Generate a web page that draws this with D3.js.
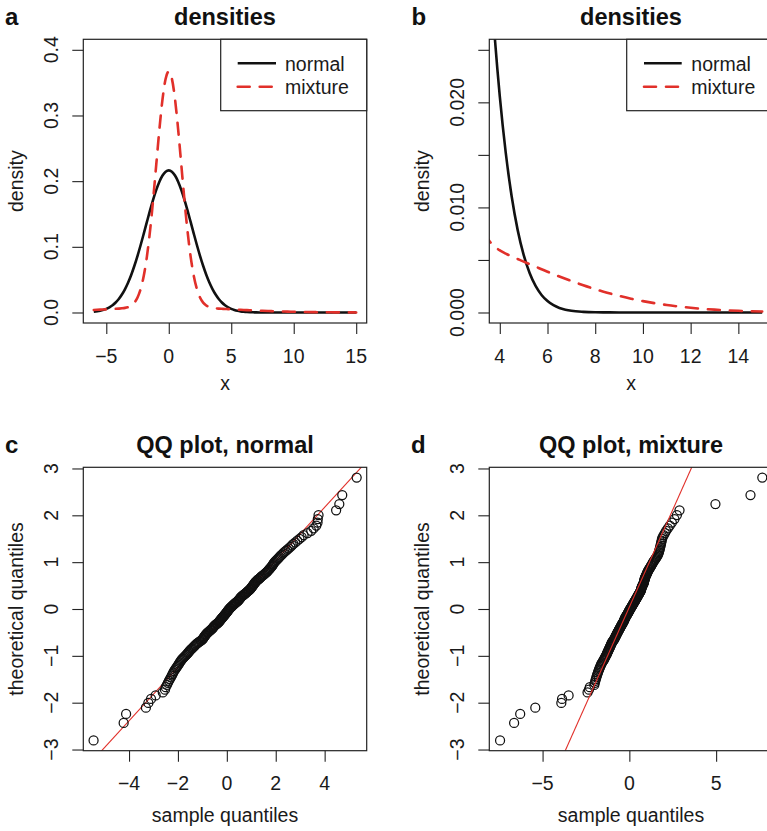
<!DOCTYPE html>
<html><head><meta charset="utf-8">
<script src="https://cdn.jsdelivr.net/npm/d3@7/dist/d3.min.js"></script>
<style>body{margin:0;background:#fff}svg{display:block}</style>
</head><body>
<svg id="chart" width="767" height="831"></svg>
<script>
// ---------- data ----------
const densityX = [-6,-5.5,-5,-4.75,-4.5,-4.25,-4,-3.75,-3.5,-3.25,-3,-2.75,-2.5,-2.25,-2,-1.75,-1.5,-1.25,-1,-0.75,-0.5,-0.25,0,
  0.25,0.5,0.75,1,1.25,1.5,1.75,2,2.25,2.5,2.75,3,3.25,3.5,3.75,4,4.25,4.5,4.75,5,5.25,5.5,5.75,6,6.25,6.5,6.75,7,
  7.5,8,8.5,9,9.5,10,10.5,11,11.5,12,12.5,13,13.5,14,14.5,15];
const normalDensity = [0.00109,0.00253,0.00548,0.00784,0.01101,0.01519,0.02057,0.02736,0.03571,0.04577,0.05759,0.07115,0.08630,0.10276,0.12014,0.13790,0.15540,0.17194,0.18675,0.19917,0.20854,0.21437,0.21635,
  0.21437,0.20854,0.19917,0.18675,0.17194,0.15540,0.13790,0.12014,0.10276,0.08630,0.07115,0.05759,0.04577,0.03571,0.02736,0.02057,0.01519,0.01101,0.00784,0.00548,0.00376,0.00253,0.00167,0.00109,0.00069,0.00043,0.00027,0.00016,
  0.00006,0.00002,0.00001,0,0,0,0,0,0,0,0,0,0,0,0,0];
const mixtureDensity = [0.00388,0.00436,0.00484,0.00509,0.00534,0.00560,0.00591,0.00634,0.00703,0.00829,0.01065,0.01504,0.02282,0.03578,0.05596,0.08516,0.12419,0.17211,0.22559,0.27891,0.32479,0.35596,0.36702,
  0.35596,0.32479,0.27891,0.22559,0.17211,0.12419,0.08516,0.05596,0.03578,0.02282,0.01504,0.01065,0.00829,0.00703,0.00634,0.00591,0.00560,0.00534,0.00509,0.00484,0.00460,0.00436,0.00412,0.00388,0.00365,0.00343,0.00321,0.00300,
  0.00259,0.00222,0.00188,0.00158,0.00131,0.00108,0.00088,0.00071,0.00057,0.00045,0.00035,0.00027,0.00021,0.00016,0.00012,0.00009];

const theoreticalQuantiles = [
 -2.807,-2.432,-2.241,-2.108,-2.005,-1.919,-1.845,-1.781,-1.722,-1.670,
 -1.621,-1.576,-1.534,-1.495,-1.458,-1.422,-1.388,-1.356,-1.326,-1.296,
 -1.267,-1.240,-1.213,-1.188,-1.163,-1.138,-1.115,-1.092,-1.069,-1.047,
 -1.026,-1.005,-0.984,-0.964,-0.944,-0.925,-0.906,-0.887,-0.869,-0.851,
 -0.833,-0.815,-0.798,-0.781,-0.764,-0.747,-0.731,-0.714,-0.698,-0.682,
 -0.667,-0.651,-0.636,-0.620,-0.605,-0.590,-0.575,-0.561,-0.546,-0.532,
 -0.517,-0.503,-0.489,-0.475,-0.461,-0.447,-0.433,-0.419,-0.406,-0.392,
 -0.379,-0.365,-0.352,-0.339,-0.325,-0.312,-0.299,-0.286,-0.273,-0.260,
 -0.247,-0.234,-0.221,-0.208,-0.196,-0.183,-0.170,-0.157,-0.145,-0.132,
 -0.119,-0.107,-0.094,-0.082,-0.069,-0.056,-0.044,-0.031,-0.019,-0.006,
 0.006,0.019,0.031,0.044,0.056,0.069,0.082,0.094,0.107,0.119,
 0.132,0.145,0.157,0.170,0.183,0.196,0.208,0.221,0.234,0.247,
 0.260,0.273,0.286,0.299,0.312,0.325,0.339,0.352,0.365,0.379,
 0.392,0.406,0.419,0.433,0.447,0.461,0.475,0.489,0.503,0.517,
 0.532,0.546,0.561,0.575,0.590,0.605,0.620,0.636,0.651,0.667,
 0.682,0.698,0.714,0.731,0.747,0.764,0.781,0.798,0.815,0.833,
 0.851,0.869,0.887,0.906,0.925,0.944,0.964,0.984,1.005,1.026,
 1.047,1.069,1.092,1.115,1.138,1.163,1.188,1.213,1.240,1.267,
 1.296,1.326,1.356,1.388,1.422,1.458,1.495,1.534,1.576,1.621,
 1.670,1.722,1.781,1.845,1.919,2.005,2.108,2.241,2.432,2.807];

const sampleNormal = [
 -5.45,-4.22,-4.12,-3.31,-3.21,-3.10,-2.91,-2.62,-2.53,-2.50,
 -2.45,-2.41,-2.37,-2.33,-2.29,-2.25,-2.22,-2.19,-2.16,-2.12,
 -2.08,-2.05,-2.01,-1.98,-1.95,-1.92,-1.89,-1.86,-1.83,-1.79,
 -1.75,-1.71,-1.67,-1.63,-1.60,-1.57,-1.54,-1.51,-1.48,-1.44,
 -1.41,-1.37,-1.34,-1.31,-1.28,-1.24,-1.20,-1.16,-1.12,-1.07,
 -1.03,-1.00,-0.98,-0.96,-0.94,-0.92,-0.90,-0.88,-0.86,-0.83,
 -0.81,-0.78,-0.75,-0.72,-0.69,-0.66,-0.63,-0.60,-0.58,-0.56,
 -0.54,-0.52,-0.49,-0.46,-0.43,-0.40,-0.37,-0.34,-0.32,-0.30,
 -0.28,-0.26,-0.24,-0.22,-0.20,-0.18,-0.16,-0.14,-0.12,-0.10,
 -0.08,-0.06,-0.04,-0.02,0.00,0.02,0.03,0.05,0.07,0.09,
 0.11,0.13,0.15,0.18,0.20,0.23,0.25,0.28,0.31,0.33,
 0.36,0.39,0.42,0.45,0.47,0.49,0.51,0.53,0.55,0.57,
 0.59,0.62,0.65,0.68,0.71,0.74,0.77,0.80,0.83,0.86,
 0.89,0.92,0.95,0.97,0.99,1.01,1.03,1.05,1.07,1.09,
 1.11,1.13,1.15,1.17,1.20,1.23,1.26,1.30,1.33,1.36,
 1.39,1.42,1.46,1.50,1.54,1.58,1.62,1.65,1.68,1.71,
 1.74,1.77,1.80,1.83,1.86,1.88,1.90,1.93,1.96,2.00,
 2.04,2.08,2.12,2.16,2.20,2.25,2.30,2.35,2.41,2.47,
 2.53,2.60,2.66,2.72,2.80,2.88,2.97,3.06,3.14,3.30,
 3.45,3.55,3.66,3.71,3.72,3.75,4.47,4.60,4.72,5.31];

const sampleMixture = [
 -7.45,-6.64,-6.29,-5.42,-3.92,-3.88,-3.50,-2.41,-2.33,-2.28,
 -2.02,-1.99,-1.96,-1.93,-1.90,-1.87,-1.84,-1.81,-1.78,-1.75,
 -1.72,-1.69,-1.66,-1.63,-1.60,-1.56,-1.52,-1.48,-1.45,-1.42,
 -1.39,-1.36,-1.33,-1.30,-1.28,-1.26,-1.23,-1.21,-1.19,-1.17,
 -1.14,-1.12,-1.10,-1.08,-1.06,-1.04,-1.02,-1.00,-0.97,-0.94,
 -0.91,-0.88,-0.86,-0.84,-0.82,-0.80,-0.78,-0.76,-0.74,-0.72,
 -0.70,-0.68,-0.66,-0.64,-0.62,-0.60,-0.58,-0.56,-0.54,-0.52,
 -0.50,-0.48,-0.46,-0.44,-0.42,-0.40,-0.38,-0.36,-0.34,-0.32,
 -0.31,-0.29,-0.28,-0.26,-0.25,-0.23,-0.21,-0.19,-0.17,-0.15,
 -0.13,-0.11,-0.09,-0.07,-0.05,-0.03,-0.02,0.00,0.02,0.04,
 0.06,0.08,0.10,0.12,0.14,0.16,0.18,0.20,0.22,0.24,
 0.26,0.28,0.30,0.32,0.34,0.36,0.38,0.40,0.42,0.44,
 0.46,0.48,0.50,0.52,0.54,0.56,0.58,0.60,0.62,0.64,
 0.66,0.67,0.68,0.69,0.70,0.71,0.72,0.74,0.76,0.78,
 0.80,0.82,0.83,0.84,0.85,0.86,0.87,0.88,0.89,0.90,
 0.92,0.94,0.96,0.98,1.00,1.02,1.04,1.06,1.08,1.11,
 1.14,1.17,1.20,1.23,1.26,1.29,1.32,1.35,1.38,1.42,
 1.46,1.50,1.54,1.58,1.62,1.65,1.68,1.70,1.72,1.74,
 1.76,1.78,1.80,1.82,1.84,1.86,1.88,1.92,1.98,2.05,
 2.12,2.22,2.33,2.45,2.60,2.74,2.89,4.96,6.98,7.66];

// qq reference lines: [intercept, slope] for theoretical = intercept + slope * sample
const qqLineNormal = [-0.108, 0.5698];
const qqLineMixture = [0.0415, 0.830];

const ticksAx = [-5,0,5,10,15], labelsAx = ["\u22125","0","5","10","15"];
const ticksAy = [0,0.1,0.2,0.3,0.4], labelsAy = ["0.0","0.1","0.2","0.3","0.4"];
const ticksBx = [4,6,8,10,12,14], labelsBx = ["4","6","8","10","12","14"];
const ticksBy = [0,0.005,0.010,0.015,0.020,0.025], labelsBy = ["0.000","","0.010","","0.020",""];
const ticksCx = [-4,-2,0,2,4], labelsCx = ["\u22124","\u22122","0","2","4"];
const ticksQy = [-3,-2,-1,0,1,2,3], labelsQy = ["\u22123","\u22122","\u22121","0","1","2","3"];
const ticksDx = [-5,0,5], labelsDx = ["\u22125","0","5"];
const legendLabels = ["normal","mixture"];

// ---------- drawing ----------
const FONT = "'Liberation Sans', Arial, Helvetica, sans-serif";
const RED = "#e1302a";
const svg = d3.select("#chart");

function panel(o) {
  const g = svg.append("g");
  const x = d3.scaleLinear().domain(o.xDomain).range([o.left, o.right]);
  const y = d3.scaleLinear().domain(o.yDomain).range([o.bottom, o.top]);
  const id = "clip" + o.letter;
  svg.append("clipPath").attr("id", id).append("rect")
    .attr("x", o.left).attr("y", o.top).attr("width", o.right - o.left).attr("height", o.bottom - o.top);

  const xa = g.append("g").attr("transform", `translate(0,${o.bottom})`)
    .call(d3.axisBottom(x).tickValues(o.xTicks).tickSize(11).tickSizeOuter(0).tickFormat(""));
  const ya = g.append("g").attr("transform", `translate(${o.left},0)`)
    .call(d3.axisLeft(y).tickValues(o.yTicks).tickSize(11).tickSizeOuter(0).tickFormat(""));
  [xa, ya].forEach(a => {
    a.selectAll("line").attr("stroke", "#222").attr("stroke-width", 1.1);
    a.select(".domain").remove();
  });
  g.selectAll(".xl").data(o.xTicks).enter().append("text")
    .attr("x", d => x(d)).attr("y", o.bottom + 39.5).attr("text-anchor", "middle")
    .attr("font-family", FONT).attr("font-size", 19.5).attr("fill", "#1a1a1a")
    .text((d, i) => o.xLabels[i]);
  g.selectAll(".yl").data(o.yTicks).enter().append("text")
    .attr("transform", d => `translate(${o.left - 25.5},${y(d)}) rotate(-90)`)
    .attr("text-anchor", "middle")
    .attr("font-family", FONT).attr("font-size", 19.5).attr("fill", "#1a1a1a")
    .text((d, i) => o.yLabels[i]);

  g.append("text").attr("x", (o.left + o.right) / 2).attr("y", o.top - 14.5)
    .attr("text-anchor", "middle").attr("font-family", FONT).attr("font-weight", "bold")
    .attr("font-size", 23.5).attr("fill", "#111").text(o.title);
  g.append("text").attr("x", o.letterX).attr("y", o.top - 14.5)
    .attr("font-family", FONT).attr("font-weight", "bold")
    .attr("font-size", 24).attr("fill", "#111").text(o.letter);
  g.append("text").attr("x", (o.left + o.right) / 2).attr("y", o.xTitleY)
    .attr("text-anchor", "middle").attr("font-family", FONT).attr("font-size", 19.5)
    .attr("fill", "#1a1a1a").text(o.xTitle);
  g.append("text").attr("transform", `translate(${o.left - 60},${(o.top + o.bottom) / 2}) rotate(-90)`)
    .attr("text-anchor", "middle").attr("font-family", FONT).attr("font-size", 19.5)
    .attr("fill", "#1a1a1a").text(o.yTitle);

  const plot = g.append("g").attr("clip-path", `url(#${id})`);
  o.draw(plot, x, y);

  g.append("rect").attr("x", o.left).attr("y", o.top)
    .attr("width", o.right - o.left).attr("height", o.bottom - o.top)
    .attr("fill", "none").attr("stroke", "#222").attr("stroke-width", 1.2);
  if (o.legend) o.legend(g, x, y);
}

function densityDraw(plot, x, y) {
  const line = d3.line().x(d => x(d[0])).y(d => y(d[1])).curve(d3.curveMonotoneX);
  plot.append("path").datum(densityX.map((v, i) => [v, normalDensity[i]]))
    .attr("d", line).attr("fill", "none").attr("stroke", "#111").attr("stroke-width", 2.6);
  plot.append("path").datum(densityX.map((v, i) => [v, mixtureDensity[i]]))
    .attr("d", line).attr("fill", "none").attr("stroke", RED).attr("stroke-width", 2.6)
    .attr("stroke-dasharray", "12,10").attr("stroke-linecap", "round");
}

function legendAt(bx, lx1, lx2, tx) {
  return function(g) {
    g.append("rect").attr("x", bx).attr("y", 39.3).attr("width", 366.7 - 220.7).attr("height", 71.4)
      .attr("fill", "#fff").attr("stroke", "#222").attr("stroke-width", 1.2);
    const items = [{c: "#111", dash: null, y: 63.3}, {c: RED, dash: "12,10", y: 86.7}];
    items.forEach((it, i) => {
      const l = g.append("line").attr("x1", lx1).attr("x2", lx2).attr("y1", it.y).attr("y2", it.y)
        .attr("stroke", it.c).attr("stroke-width", 2.6);
      if (it.dash) l.attr("stroke-dasharray", it.dash).attr("stroke-linecap", "round");
      g.append("text").attr("x", tx).attr("y", it.y + 7.2).attr("font-family", FONT)
        .attr("font-size", 19.5).attr("fill", "#1a1a1a").text(legendLabels[i]);
    });
  };
}

function qqDraw(sample, lineCoef, lineOnTop) {
  return function(plot, x, y) {
    const xd = x.domain();
    const drawLine = () => plot.append("line")
      .attr("x1", x(xd[0])).attr("y1", y(lineCoef[0] + lineCoef[1] * xd[0]))
      .attr("x2", x(xd[1])).attr("y2", y(lineCoef[0] + lineCoef[1] * xd[1]))
      .attr("stroke", RED).attr("stroke-width", 1.1);
    if (!lineOnTop) drawLine();
    plot.selectAll("circle").data(sample).enter().append("circle")
      .attr("cx", d => x(d)).attr("cy", (d, i) => y(theoreticalQuantiles[i]))
      .attr("r", 4.5).attr("fill", "none").attr("stroke", "#111").attr("stroke-width", 1.25);
    if (lineOnTop) drawLine();
  };
}

panel({letter: "a", letterX: 5, title: "densities", left: 83.3, right: 366.7, top: 39.3, bottom: 323,
  xDomain: [-6.84, 15.84], yDomain: [-0.016, 0.416],
  xTicks: ticksAx, xLabels: labelsAx, yTicks: ticksAy, yLabels: labelsAy,
  xTitle: "x", yTitle: "density", xTitleY: 389.5, draw: densityDraw,
  legend: legendAt(220.7, 237.7, 276, 285)});

panel({letter: "b", letterX: 411.5, title: "densities", left: 489.3, right: 772.7, top: 39.3, bottom: 323,
  xDomain: [3.56, 15.44], yDomain: [-0.001, 0.026],
  xTicks: ticksBx, xLabels: labelsBx, yTicks: ticksBy, yLabels: labelsBy,
  xTitle: "x", yTitle: "density", xTitleY: 389.5, draw: densityDraw,
  legend: legendAt(626.7, 644, 681.7, 691.3)});

panel({letter: "c", letterX: 5, title: "QQ plot, normal", left: 83.3, right: 366.7, top: 467.3, bottom: 750.7,
  xDomain: [-5.87, 5.72], yDomain: [-3.025, 3.025],
  xTicks: ticksCx, xLabels: labelsCx, yTicks: ticksQy, yLabels: labelsQy,
  xTitle: "sample quantiles", yTitle: "theoretical quantiles", xTitleY: 822,
  draw: qqDraw(sampleNormal, qqLineNormal, false)});

panel({letter: "d", letterX: 411, title: "QQ plot, mixture", left: 489.3, right: 772.7, top: 467.3, bottom: 750.7,
  xDomain: [-8.07, 8.26], yDomain: [-3.025, 3.025],
  xTicks: ticksDx, xLabels: labelsDx, yTicks: ticksQy, yLabels: labelsQy,
  xTitle: "sample quantiles", yTitle: "theoretical quantiles", xTitleY: 822,
  draw: qqDraw(sampleMixture, qqLineMixture, true)});
</script>
</body></html>
